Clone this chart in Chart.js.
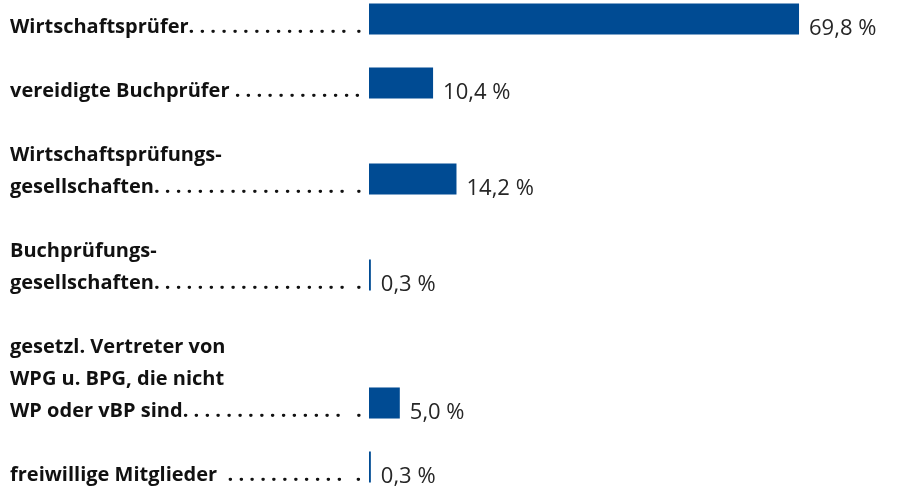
<!DOCTYPE html>
<html>
<head>
<meta charset="utf-8">
<script src="https://cdn.jsdelivr.net/npm/chart.js@4/dist/chart.umd.min.js"></script>
<style>
  html, body { margin: 0; padding: 0; background: #fff; }
  #wrap { width: 915px; height: 487px; }
</style>
</head>
<body>
<div id="wrap"><canvas id="members"></canvas></div>
<script>
// Mitgliederstruktur ====================================================
const categories = [
    ['Wirtschaftsprüfer'],
    ['vereidigte Buchprüfer '],
    ['Wirtschaftsprüfungs-', 'gesellschaften'],
    ['Buchprüfungs-', 'gesellschaften'],
    ['gesetzl. Vertreter von', 'WPG u. BPG, die nicht', 'WP oder vBP sind'],
    ['freiwillige Mitglieder  ']
];
const shares = [69.8, 10.4, 14.2, 0.3, 5.0, 0.3]; // percent

const BAR_COLOR = '#004b93';
const labelFont = 'bold 20px "Open Sans"';
const valueFont = '22px "Open Sans"';
const leaderEnd = 362; // x where the dotted leader has to stop

// measure text so the dots run up to the bars
var measureCtx = document.createElement('canvas').getContext('2d');
measureCtx.font = labelFont;

function withLeader(text) {
    var s = text;
    var w = function(t) { return measureCtx.measureText(t).width + 10; };
    while (w(s + '. .') <= leaderEnd) {
        s += '. ';
    }
    // push the last dot right up to the bar
    while (w(s + '\u200A.') <= leaderEnd) {
        s += '\u200A';
    }
    return s + '.';
}

// every text line gets its own slot, one empty slot between groups,
// the bar sits on the last line of its group
var slotLabels = [];
var slotValues = [];
categories.forEach(function(lines, i) {
    lines.forEach(function(line, j) {
        var last = j === lines.length - 1;
        slotLabels.push(last ? withLeader(line) : line);
        slotValues.push(last ? shares[i] : null);
    });
    if (i < categories.length - 1) {
        slotLabels.push('');
        slotValues.push(null);
    }
});

const valueLabels = {
    id: 'valueLabels',
    afterDatasetsDraw(chart) {
        var ctx = chart.ctx;
        var meta = chart.getDatasetMeta(0);
        ctx.save();
        ctx.font = valueFont;
        ctx.fillStyle = '#262626';
        ctx.textAlign = 'left';
        ctx.textBaseline = 'alphabetic';
        meta.data.forEach(function(bar, i) {
            var v = slotValues[i];
            if (v === null) return;
            ctx.fillText(v.toFixed(1).replace('.', ',') + ' %', bar.x + 10, bar.y + 16);
        });
        ctx.restore();
    }
};

new Chart(document.getElementById('members'), {
    type: 'bar',
    data: {
        labels: slotLabels,
        datasets: [{
            data: slotValues,
            backgroundColor: BAR_COLOR,
            borderWidth: 0,
            barPercentage: 0.97,
            categoryPercentage: 1
        }]
    },
    plugins: [valueLabels],
    options: {
        indexAxis: 'y',
        responsive: true,
        maintainAspectRatio: false,
        animation: false,
        layout: { padding: { left: 10, right: 10, top: 3, bottom: 4 } },
        plugins: {
            legend: { display: false },
            tooltip: { enabled: false }
        },
        scales: {
            x: {
                display: false,
                min: 0,
                max: 87
            },
            y: {
                grid: { display: false, drawTicks: false },
                border: { display: false },
                ticks: {
                    autoSkip: false,
                    crossAlign: 'far',
                    padding: 0,
                    labelOffset: 8,
                    color: '#111',
                    font: { family: '"Open Sans"', size: 20, weight: 'bold' }
                },
                afterFit: function(scale) {
                    scale.width = 359;
                    scale.paddingTop = 0;
                    scale.paddingBottom = 0;
                }
            }
        }
    }
});
</script>
</body>
</html>
